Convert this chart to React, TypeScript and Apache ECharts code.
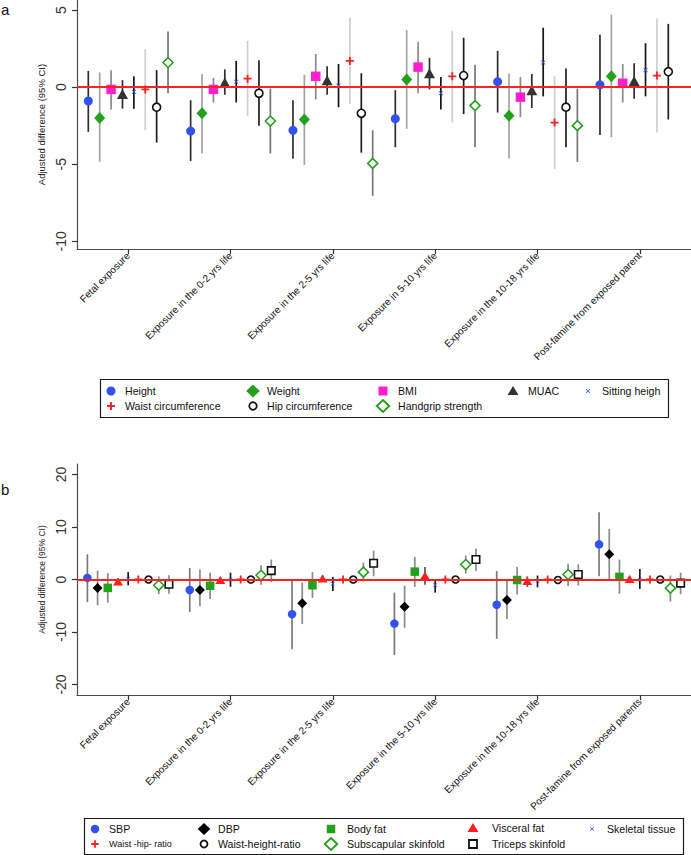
import React, { useEffect, useRef } from 'react';
import * as echarts from 'echarts';

// ---------- categories & ticks ----------
const categoriesA = [
  'Fetal exposure',
  'Exposure in the 0-2 yrs life',
  'Exposure in the 2-5 yrs life',
  'Exposure in 5-10 yrs life',
  'Exposure in the 10-18 yrs life',
  'Post-famine from exposed parent',
];
const categoriesB = [
  'Fetal exposure',
  'Exposure in the 0-2 yrs life',
  'Exposure in the 2-5 yrs life',
  'Exposure in the 5-10 yrs life',
  'Exposure in the 10-18 yrs life',
  'Post-famine from exposed parents',
];
const yTicksA = [-10, -5, 0, 5];
const yTicksB = [-20, -10, 0, 10, 20];

// ---------- panel a: [estimate, lower CI, upper CI] per exposure period ----------
const height = [[-0.9, -2.9, 1.05], [-2.85, -4.8, -0.85], [-2.8, -4.65, -0.85], [-2.05, -3.9, -0.2], [0.35, -1.65, 2.35], [0.15, -3.1, 3.4]];
const weight = [[-2.0, -4.85, 0.95], [-1.7, -4.3, 0.85], [-2.1, -5.05, 0.8], [0.5, -2.7, 3.7], [-1.85, -4.65, 0.9], [0.7, -3.25, 4.7]];
const bmi = [[-0.15, -1.45, 1.1], [-0.15, -1.0, 0.6], [0.7, -0.8, 2.15], [1.3, -0.4, 2.95], [-0.65, -1.95, 0.65], [0.25, -1.0, 1.5]];
const muac = [[-0.45, -1.4, 0.45], [0.3, -0.5, 1.15], [0.45, -0.5, 1.35], [0.9, -0.15, 1.9], [-0.2, -1.35, 0.85], [0.4, -0.75, 1.55]];
const sittingHeight = [[-0.3, -1.4, 0.7], [0.35, -1.0, 1.7], [0.1, -1.3, 1.5], [-0.4, -1.45, 0.65], [1.6, -0.6, 3.85], [1.1, -0.6, 2.85]];
const waistCirc = [[-0.15, -2.8, 2.45], [0.55, -1.85, 3.0], [1.7, -1.1, 4.5], [0.7, -2.3, 3.65], [-2.3, -5.3, 0.7], [0.75, -2.95, 4.45]];
const hipCirc = [[-1.3, -3.6, 1.1], [-0.4, -2.5, 1.75], [-1.7, -4.25, 0.9], [0.75, -1.75, 3.2], [-1.3, -3.9, 1.2], [1.0, -2.1, 4.1]];
const handgrip = [[1.6, -0.4, 3.6], [-2.2, -4.3, -0.1], [-4.95, -7.05, -2.8], [-1.2, -3.9, 1.45], [-2.5, -4.85, -0.1], null];

// ---------- panel b ----------
const sbp = [[0.3, -4.3, 4.8], [-2.0, -6.2, 2.2], [-6.6, -13.3, 0.0], [-8.4, -14.4, -2.5], [-4.8, -11.3, 1.6], [6.7, 0.6, 12.8]];
const dbp = [[-1.6, -4.9, 1.7], [-2.0, -5.1, 1.9], [-4.5, -8.5, -0.6], [-5.2, -9.2, -1.15], [-3.9, -7.5, -0.3], [4.8, 0.1, 9.6]];
const bodyFat = [[-1.6, -4.4, 1.2], [-1.2, -3.7, 1.3], [-1.1, -3.5, 1.4], [1.5, -1.4, 4.3], [-0.1, -2.85, 2.4], [0.5, -2.7, 3.8]];
const visceralFat = [[-0.4, -1.0, 0.2], [-0.1, -0.6, 0.4], [0.2, -0.4, 0.8], [0.7, -1.0, 2.4], [-0.3, -1.4, 0.6], [0.1, -0.5, 0.7]];
const skeletalTissue = [[0.1, -1.1, 1.4], [0.0, -1.4, 1.3], [-0.8, -2.2, 0.5], [-1.1, -2.5, 0.1], [-0.3, -1.5, 0.75], [0.0, -1.8, 2.0]];
const waistHipRatio = [[0.0, -0.1, 0.1], [0.0, -0.1, 0.1], [0.0, -0.1, 0.1], [0.0, -0.1, 0.1], [0.0, -0.1, 0.1], [0.0, -0.1, 0.1]];
const waistHeightRatio = [[0.0, -0.1, 0.1], [0.0, -0.1, 0.1], [0.0, -0.1, 0.1], [0.0, -0.1, 0.1], [-0.1, -0.2, 0.0], [0.0, -0.1, 0.1]];
const subscapular = [[-1.1, -2.8, 0.6], [0.8, -1.0, 2.7], [1.4, -0.4, 3.2], [2.85, 1.1, 4.55], [0.95, -1.25, 3.0], [-1.65, -4.2, 0.75]];
const triceps = [[-0.9, -2.7, 0.8], [1.7, -0.5, 3.8], [3.1, 0.6, 5.5], [3.8, 1.6, 5.9], [0.95, -1.15, 2.9], [-0.7, -2.8, 1.3]];

// ---------- styles ----------
const BLUE = '#3152f2';
const GREEN = '#23a01c';
const MAGENTA = '#ff1fd0';
const RED = '#ff1f1f';
const DARK = '#333333';
const FONT = 'Liberation Sans, Arial, Helvetica, sans-serif';

const PLUS_PATH = 'path://M3.1,0H4.9V3.1H8V4.9H4.9V8H3.1V4.9H0V3.1H3.1Z';
const X_PATH = 'path://M1,0L4,3L7,0L8,1L5,4L8,7L7,8L4,5L1,8L0,7L3,4L0,1Z';

type Spec = {
  name: string; data: any[]; shape: string; size: number | number[];
  fill: string; stroke?: string; hollow?: boolean; ci: string;
};

const specsA: Spec[] = [
  { name: 'Height', data: height, shape: 'circle', size: 9, fill: BLUE, ci: '#2e2e2e' },
  { name: 'Weight', data: weight, shape: 'diamond', size: [11, 12], fill: GREEN, ci: '#a3a3a3' },
  { name: 'BMI', data: bmi, shape: 'rect', size: 9.5, fill: MAGENTA, ci: '#8a8a8a' },
  { name: 'MUAC', data: muac, shape: 'triangle', size: [11, 10], fill: DARK, ci: '#2e2e2e' },
  { name: 'Sitting heigh', data: sittingHeight, shape: X_PATH, size: 4.5, fill: BLUE, ci: '#151515' },
  { name: 'Waist circumference', data: waistCirc, shape: PLUS_PATH, size: 8, fill: RED, ci: '#cfcfcf' },
  { name: 'Hip circumference', data: hipCirc, shape: 'circle', size: 8, fill: '#ffffff', stroke: '#111', hollow: true, ci: '#1e1e1e' },
  { name: 'Handgrip strength', data: handgrip, shape: 'diamond', size: [10, 10], fill: '#ffffff', stroke: GREEN, hollow: true, ci: '#777777' },
];

const specsB: Spec[] = [
  { name: 'SBP', data: sbp, shape: 'circle', size: 8.5, fill: BLUE, ci: '#7a7a7a' },
  { name: 'DBP', data: dbp, shape: 'diamond', size: [10, 10], fill: '#000000', ci: '#8a8a8a' },
  { name: 'Body fat', data: bodyFat, shape: 'rect', size: 8.5, fill: GREEN, ci: '#8a8a8a' },
  { name: 'Visceral fat', data: visceralFat, shape: 'triangle', size: [10, 8], fill: RED, ci: '#555555' },
  { name: 'Skeletal tissue', data: skeletalTissue, shape: X_PATH, size: 4, fill: BLUE, ci: '#1a1a1a' },
  { name: 'Waist -hip- ratio', data: waistHipRatio, shape: PLUS_PATH, size: 8, fill: RED, ci: RED },
  { name: 'Waist-height-ratio', data: waistHeightRatio, shape: 'circle', size: 7, fill: '#ffffff', stroke: '#111', hollow: true, ci: '#333' },
  { name: 'Subscapular skinfold', data: subscapular, shape: 'diamond', size: [10, 10], fill: '#ffffff', stroke: GREEN, hollow: true, ci: '#8a8a8a' },
  { name: 'Triceps skinfold', data: triceps, shape: 'rect', size: 7.5, fill: '#ffffff', stroke: '#111', hollow: true, ci: '#8a8a8a' },
];

function buildSeries(specs: Spec[], step: number, axisIndex: number) {
  const n = specs.length;
  const out: any[] = [];
  specs.forEach((s, j) => {
    const off = (j - (n - 1) / 2) * step;
    const ciData: any[] = [];
    const ptData: any[] = [];
    s.data.forEach((d: any, i: number) => {
      if (!d) return;
      ciData.push([i + off, d[1], d[2]]);
      ptData.push([i + off, d[0]]);
    });
    out.push({
      type: 'custom',
      name: s.name + ' CI',
      xAxisIndex: axisIndex,
      yAxisIndex: axisIndex,
      z: 2,
      silent: true,
      encode: { x: 0, y: [1, 2] },
      data: ciData,
      renderItem: (_p: any, api: any) => {
        const a = api.coord([api.value(0), api.value(1)]);
        const b = api.coord([api.value(0), api.value(2)]);
        return {
          type: 'line',
          shape: { x1: a[0], y1: a[1], x2: b[0], y2: b[1] },
          style: { stroke: s.ci, lineWidth: 1.7 },
        };
      },
    });
    out.push({
      type: 'scatter',
      name: s.name,
      xAxisIndex: axisIndex,
      yAxisIndex: axisIndex,
      z: 4,
      silent: true,
      symbol: s.shape,
      symbolSize: s.size,
      itemStyle: s.hollow
        ? { color: s.fill, borderColor: s.stroke, borderWidth: 1.6, opacity: 1 }
        : { color: s.fill, opacity: 1 },
      data: ptData,
    });
  });
  // zero reference line
  out.push({
    type: 'line',
    name: 'zero' + axisIndex,
    xAxisIndex: axisIndex,
    yAxisIndex: axisIndex,
    data: [],
    z: 3,
    silent: true,
    markLine: {
      silent: true,
      symbol: 'none',
      label: { show: false },
      lineStyle: { color: '#ff2020', width: 2, type: 'solid' },
      data: [{ yAxis: 0 }],
    },
  });
  return out;
}

function xAxisFor(cats: string[], gridIndex: number) {
  const vals = cats.map((_, i) => i);
  return {
    type: 'value',
    gridIndex,
    min: -0.5,
    max: 5.5,
    splitLine: { show: false },
    axisLine: { show: true, onZero: false, lineStyle: { color: '#4d4d4d', width: 1.2 } },
    axisTick: { show: true, customValues: vals, length: 5, lineStyle: { color: '#333', width: 1.2 } },
    axisLabel: {
      customValues: vals,
      rotate: 45,
      margin: 5,
      fontSize: 10,
      color: '#111',
      fontFamily: FONT,
      formatter: (v: number) => cats[Math.round(v)] ?? '',
    },
  };
}

function yAxisFor(ticks: number[], min: number, max: number, gridIndex: number, nameSize: number) {
  return {
    type: 'value',
    gridIndex,
    min,
    max,
    name: 'Adjusted difference (95% CI)',
    nameLocation: 'middle',
    nameGap: 31,
    nameTextStyle: { fontSize: nameSize, color: '#222', fontFamily: FONT },
    splitLine: { show: false },
    axisLine: { show: true, onZero: false, lineStyle: { color: '#4d4d4d', width: 1.2 } },
    axisTick: { show: true, customValues: ticks, length: 5, lineStyle: { color: '#333', width: 1.2 } },
    axisLabel: {
      customValues: ticks,
      rotate: 90,
      margin: 9,
      fontSize: 14,
      color: '#333',
      fontFamily: FONT,
    },
  };
}

// ---------- legend drawn as graphic ----------
function symbolEl(shape: string, cx: number, cy: number, size: number, fill: string, stroke?: string) {
  const style: any = stroke ? { fill, stroke, lineWidth: 1.8 } : { fill };
  const h = size / 2;
  if (shape === 'circle') return { type: 'circle', shape: { cx, cy, r: h }, style };
  if (shape === 'rect') return { type: 'rect', shape: { x: cx - h, y: cy - h, width: size, height: size }, style };
  if (shape === 'diamond')
    return { type: 'polygon', shape: { points: [[cx, cy - h], [cx + h * 1.05, cy], [cx, cy + h], [cx - h * 1.05, cy]] }, style };
  if (shape === 'triangle')
    return { type: 'polygon', shape: { points: [[cx, cy - h], [cx + h * 1.1, cy + h * 0.8], [cx - h * 1.1, cy + h * 0.8]] }, style };
  if (shape === 'plus') {
    const t = size * 0.12;
    return {
      type: 'polygon',
      shape: {
        points: [[cx - t, cy - h], [cx + t, cy - h], [cx + t, cy - t], [cx + h, cy - t], [cx + h, cy + t], [cx + t, cy + t],
          [cx + t, cy + h], [cx - t, cy + h], [cx - t, cy + t], [cx - h, cy + t], [cx - h, cy - t], [cx - t, cy - t]],
      },
      style,
    };
  }
  // x mark
  const k = size / 8;
  const pts = [[1, 0], [4, 3], [7, 0], [8, 1], [5, 4], [8, 7], [7, 8], [4, 5], [1, 8], [0, 7], [3, 4], [0, 1]].map(
    ([px, py]) => [cx - h + px * k, cy - h + py * k]
  );
  return { type: 'polygon', shape: { points: pts }, style };
}

function legendEls(
  box: number[],
  items: { label: string; shape: string; size: number; fill: string; stroke?: string; mx: number; tx: number; y: number; fs: number }[]
) {
  const els: any[] = [
    {
      type: 'rect',
      shape: { x: box[0] + 0.5, y: box[1] + 0.5, width: box[2], height: box[3] },
      style: { fill: 'none', stroke: '#1a1a1a', lineWidth: 1.2 },
      z: 10,
    },
  ];
  items.forEach((it) => {
    els.push({ ...symbolEl(it.shape, it.mx, it.y, it.size, it.fill, it.stroke), z: 11 });
    els.push({
      type: 'text',
      x: it.tx,
      y: it.y,
      z: 11,
      style: { text: it.label, fontSize: it.fs, fontFamily: FONT, fill: '#111', verticalAlign: 'middle', align: 'left' },
    });
  });
  return els;
}

export default function App() {
  const ref = useRef<HTMLDivElement>(null);
  useEffect(() => {
    if (!ref.current) return;
    const chart = echarts.init(ref.current, null, { renderer: 'svg' });
    const rA1 = 391, rA2 = 406;
    const rB1 = 829, rB2 = 844;
    const legendA = legendEls([100, 379, 568, 38], [
      { label: 'Height', shape: 'circle', size: 9, fill: BLUE, mx: 111, tx: 125, y: rA1, fs: 10.6 },
      { label: 'Weight', shape: 'diamond', size: 13, fill: GREEN, mx: 253, tx: 267, y: rA1, fs: 10.6 },
      { label: 'BMI', shape: 'rect', size: 9, fill: MAGENTA, mx: 383, tx: 398, y: rA1, fs: 10.6 },
      { label: 'MUAC', shape: 'triangle', size: 10, fill: DARK, mx: 513, tx: 528, y: rA1, fs: 10.6 },
      { label: 'Sitting heigh', shape: 'x', size: 4.5, fill: BLUE, mx: 588, tx: 602, y: rA1, fs: 10.6 },
      { label: 'Waist circumference', shape: 'plus', size: 8, fill: RED, mx: 111, tx: 125, y: rA2, fs: 10.6 },
      { label: 'Hip circumference', shape: 'circle', size: 7.5, fill: '#fff', stroke: '#111', mx: 253, tx: 267, y: rA2, fs: 10.6 },
      { label: 'Handgrip strength', shape: 'diamond', size: 12, fill: '#fff', stroke: GREEN, mx: 383, tx: 398, y: rA2, fs: 10.6 },
    ]);
    const legendB = legendEls([84, 818, 599, 36], [
      { label: 'SBP', shape: 'circle', size: 8.5, fill: BLUE, mx: 95, tx: 109, y: rB1, fs: 10.6 },
      { label: 'DBP', shape: 'diamond', size: 12, fill: '#000', mx: 204, tx: 218, y: rB1, fs: 10.6 },
      { label: 'Body fat', shape: 'rect', size: 8.5, fill: GREEN, mx: 331, tx: 347, y: rB1, fs: 10.6 },
      { label: 'Visceral fat', shape: 'triangle', size: 10, fill: RED, mx: 473, tx: 492, y: rB1 - 1, fs: 10.6 },
      { label: 'Skeletal tissue', shape: 'x', size: 4, fill: BLUE, mx: 592, tx: 607, y: rB1, fs: 10.6 },
      { label: 'Waist -hip- ratio', shape: 'plus', size: 7.5, fill: RED, mx: 95, tx: 109, y: rB2, fs: 9 },
      { label: 'Waist-height-ratio', shape: 'circle', size: 7, fill: '#fff', stroke: '#111', mx: 204, tx: 218, y: rB2, fs: 10.6 },
      { label: 'Subscapular skinfold', shape: 'diamond', size: 12, fill: '#fff', stroke: GREEN, mx: 331, tx: 347, y: rB2, fs: 10.6 },
      { label: 'Triceps skinfold', shape: 'rect', size: 8, fill: '#fff', stroke: '#111', mx: 473, tx: 492, y: rB2, fs: 10.6 },
    ]);

    chart.setOption({
      animation: false,
      backgroundColor: '#ffffff',
      textStyle: { fontFamily: FONT },
      grid: [
        { left: 77, top: 0, width: 614, height: 249, containLabel: false },
        { left: 77, top: 464, width: 614, height: 231, containLabel: false },
      ],
      xAxis: [xAxisFor(categoriesA, 0), xAxisFor(categoriesB, 1)],
      yAxis: [yAxisFor(yTicksA, -10.5, 5.65, 0, 9.5), yAxisFor(yTicksB, -22, 22, 1, 8.5)],
      series: [...buildSeries(specsA, 0.1113, 0), ...buildSeries(specsB, 0.0996, 1)],
      graphic: [
        { type: 'text', x: 1, y: 2, style: { text: 'a', fontSize: 15, fontFamily: FONT, fill: '#111' } },
        { type: 'text', x: 1, y: 482, style: { text: 'b', fontSize: 15, fontFamily: FONT, fill: '#111' } },
        ...legendA,
        ...legendB,
      ],
    });
    return () => chart.dispose();
  }, []);
  return <div ref={ref} style={{ position: 'fixed', left: 0, top: 0, width: 691, height: 855 }} />;
}
